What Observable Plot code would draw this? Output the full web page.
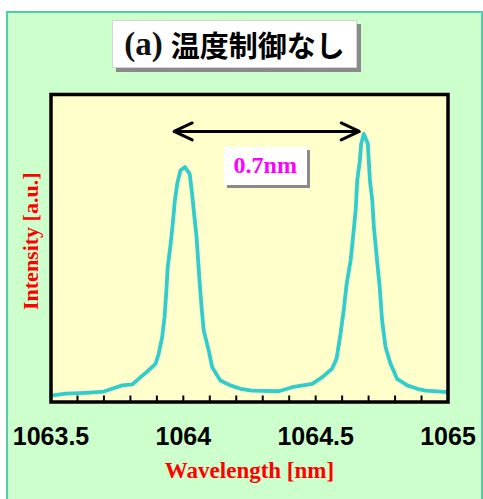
<!DOCTYPE html>
<html>
<head>
<meta charset="utf-8">
<script src="https://cdn.jsdelivr.net/npm/d3@7"></script>
<script src="https://cdn.jsdelivr.net/npm/@observablehq/plot@0.6"></script>
<style>
  html, body { margin: 0; padding: 0; background: #fff; width: 483px; height: 499px; overflow: hidden; }
  #panel { position: absolute; left: 6px; top: 11px; width: 473px; height: 490px;
           background: #ccffcc; border-left: 2px solid #55ccaa; border-top: 2px solid #55ccaa; border-right: 2px solid #55ccaa; }
  #title { position: absolute; left: 112px; top: 20px; width: 245px; height: 48px; box-sizing: border-box;
           background: #fff; border: 1px solid #d4d4d4; box-shadow: 4px 4px 0 #8a8a8a;
           display: flex; align-items: center; justify-content: center; white-space: nowrap; }
  #chart { position: absolute; left: 0; top: 80px; }
  #span-label { position: absolute; width: 83px; height: 38px; background: #fff; box-shadow: 3px 3px 0 #8a8a8a;
                display: flex; align-items: center; justify-content: center;
                font-family: 'Liberation Serif'; font-weight: bold; font-size: 24px; color: #ff00ff; }
</style>
</head>
<body>
<div id="panel"></div>
<div id="title"><span style="font-family:'Liberation Serif';font-weight:bold;font-size:33px;color:#111;margin-right:8px">(a)</span><span style="font-family:'Noto Sans CJK JP';font-weight:700;font-size:29px;color:#000">温度制御なし</span></div>
<div id="chart"></div>
<script>
// Spectrum without temperature control: wavelength [nm] vs. relative intensity
const wavelength = [
  1063.500, 1063.555, 1063.630, 1063.700, 1063.731, 1063.769, 1063.807, 1063.831,
  1063.861, 1063.895, 1063.907, 1063.920, 1063.929, 1063.936, 1063.941, 1063.952,
  1063.960, 1063.968, 1063.977, 1063.989, 1064.006, 1064.024, 1064.033, 1064.042,
  1064.050, 1064.056, 1064.062, 1064.069, 1064.077, 1064.096, 1064.109, 1064.140,
  1064.178, 1064.216, 1064.260, 1064.361, 1064.411, 1064.487, 1064.525, 1064.562,
  1064.579, 1064.594, 1064.606, 1064.617, 1064.632, 1064.640, 1064.651, 1064.657,
  1064.667, 1064.672, 1064.682, 1064.697, 1064.705, 1064.714, 1064.720, 1064.732,
  1064.742, 1064.751, 1064.764, 1064.783, 1064.808, 1064.846, 1064.884, 1064.915,
  1065.000
];
const intensity = [
  2.1, 2.7, 3.0, 3.4, 4.3, 5.4, 5.7, 7.5,
  9.7, 12.4, 15.7, 21.1, 27.6, 36.3, 43.8, 51.4,
  58.0, 65.5, 71.0, 75.3, 76.4, 74.2, 67.7, 60.1,
  53.6, 46.0, 38.4, 30.8, 23.3, 16.7, 11.3, 7.0,
  5.4, 4.3, 3.7, 3.5, 4.8, 5.9, 8.1, 10.8,
  14.1, 22.2, 29.8, 38.4, 46.0, 52.5, 62.3, 72.0,
  78.5, 84.0, 87.2, 84.0, 72.0, 65.5, 56.8, 46.0,
  37.3, 26.5, 17.8, 12.4, 7.5, 5.4, 4.3, 3.7,
  3.2
];

// Axis ticks
const majorTicks = [1063.5, 1064, 1064.5, 1065];
const majorTickLabels = ["1063.5", "1064", "1064.5", "1065"];
const minorTicks = [1063.6, 1063.7, 1063.8, 1063.9, 1064.0, 1064.1, 1064.2, 1064.3, 1064.4,
                    1064.5, 1064.6, 1064.7, 1064.8, 1064.9];

// Peak separation annotation
const spanStart = 1063.965;
const spanWidth = 0.7;
const spanLevel = 88;
const spanText = "0.7nm";

const xTitle = "Wavelength [nm]";
const yTitle = "Intensity [a.u.]";

const spectrum = wavelength.map((w, i) => ({w, v: intensity[i]}));
const spanMid = spanStart + spanWidth / 2;
const spanArrows = [
  {from: spanMid, to: spanStart},
  {from: spanMid, to: spanStart + spanWidth}
];

const serif = "'Liberation Serif', 'Times New Roman', serif";
const sans = "'Liberation Sans', Arial, sans-serif";

const plot = Plot.plot({
  width: 483,
  height: 419,
  marginLeft: 50.5,
  marginRight: 35.5,
  marginTop: 14,
  marginBottom: 97.5,
  x: {domain: [1063.5, 1065], label: null},
  y: {domain: [0, 100], axis: null},
  style: {background: "transparent", overflow: "visible"},
  marks: [
    Plot.frame({fill: "#ffffcc", stroke: null}),
    Plot.axisX(minorTicks, {anchor: "bottom", tickSize: -6, strokeWidth: 2, tickFormat: () => "", label: null}),
    Plot.axisX(majorTicks, {
      anchor: "bottom", tickSize: 0, tickPadding: 25, label: null,
      tickFormat: (d) => majorTickLabels[majorTicks.indexOf(d)],
      fontSize: 25, fontWeight: "bold", fontFamily: sans, fill: "#000"
    }),
    Plot.line(spectrum, {x: "w", y: "v", stroke: "#33cccc", strokeWidth: 3.8, strokeLinejoin: "round", strokeLinecap: "round"}),
    Plot.arrow(spanArrows, {
      x1: "from", x2: "to", y1: () => spanLevel, y2: () => spanLevel,
      stroke: "#000", strokeWidth: 3, headLength: 10, headAngle: 50
    }),
    Plot.frame({stroke: "#000", strokeWidth: 3.5}),
    Plot.text([yTitle], {
      frameAnchor: "left", textAnchor: "middle", lineAnchor: "middle", rotate: -90, dx: -20, dy: -7,
      fill: "#ff0000", fontSize: 22, fontWeight: "bold", fontFamily: serif
    }),
    Plot.text([xTitle], {
      frameAnchor: "bottom", textAnchor: "middle", lineAnchor: "bottom", dy: 75.5,
      fill: "#ff0000", fontSize: 23, fontWeight: "bold", fontFamily: serif
    })
  ]
});
document.getElementById("chart").appendChild(plot);

// White label box under the arrow, placed through the plot's scales
const sx = plot.scale("x"), sy = plot.scale("y");
const label = document.createElement("div");
label.id = "span-label";
label.textContent = spanText;
const cx = sx.apply(spanMid);
const topY = sy.apply(spanLevel) + 80 + 16;
label.style.left = (cx - 42.5) + "px";
label.style.top = topY + "px";
document.body.appendChild(label);
</script>
</body>
</html>
